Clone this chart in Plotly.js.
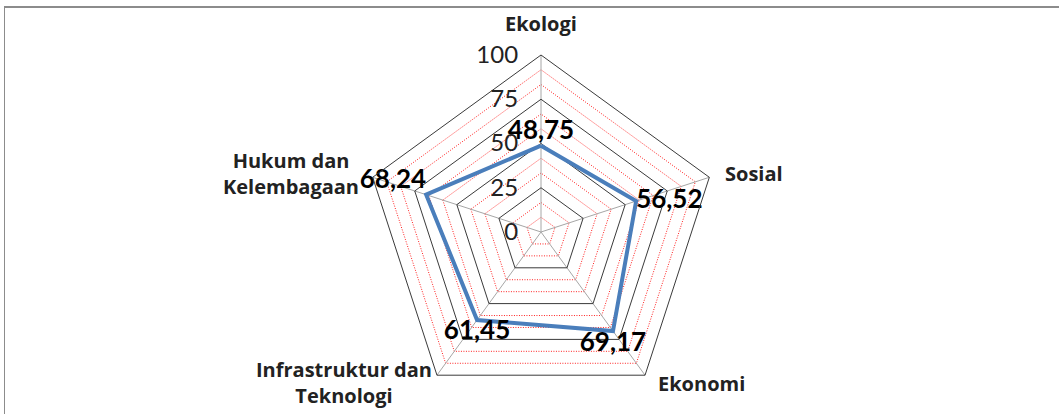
<!DOCTYPE html>
<html>
<head>
<meta charset="utf-8">
<script src="https://cdn.plot.ly/plotly-3.0.1.min.js"></script>
<style>
  html, body { margin: 0; padding: 0; background: #fff; }
  #wrap { position: relative; width: 1059px; height: 414px; overflow: hidden; }
  #chart { position: absolute; left: 0; top: 0; width: 1059px; height: 414px; }
  /* Excel chart-area frame, only top and left edges are visible in the crop */
  #frame { position: absolute; left: 4px; top: 6px; width: 1100px; height: 420px;
           border-top: 2px solid #8c8c8c; border-left: 1px solid #8c8c8c; pointer-events: none; }
</style>
</head>
<body>
<div id="wrap">
  <div id="chart"></div>
  <div id="frame"></div>
</div>
<script>
/* ── data ── */
const categories = ['Ekologi', 'Sosial', 'Ekonomi', 'Infrastruktur dan<br>Teknologi', 'Hukum dan<br>Kelembagaan'];
const values = [48.75, 56.52, 69.17, 61.45, 68.24];
const majorTicks = [0, 25, 50, 75, 100];
const majorLabels = ['0', '25', '50', '75', '100'];
const minorTicks = [8.33, 16.67, 33.33, 41.67, 58.33, 66.67, 83.33, 91.67];
const labelPos = ['top center', 'middle right', 'bottom center', 'bottom center', 'top left'];

const FONT = 'Lato, "Open Sans", "DejaVu Sans", sans-serif';
const CAT_FONT = '"Open Sans", Lato, "DejaVu Sans", sans-serif';

const W = 1059, H = 414;
const M = { l: 23, r: 0, t: 55, b: 5 };

// close the polygon
const theta = categories.concat(categories[0]);
const r = values.concat(values[0]);
const txt = values.map(v => v.toFixed(2).replace('.', ',')).concat('');
const pos = labelPos.concat('top center');

const minorTrace = {
  type: 'scatterpolar', subplot: 'polar',
  r: r, theta: theta, mode: 'lines',
  line: { width: 0, color: 'rgba(0,0,0,0)' },
  hoverinfo: 'skip', showlegend: false
};

const dataTrace = {
  type: 'scatterpolar', subplot: 'polar2',
  r: r, theta: theta, mode: 'lines+text',
  text: txt, textposition: pos,
  textfont: { family: FONT, size: 26, color: '#000', weight: 'bold' },
  line: { color: '#4a7ebb', width: 4 },
  hoverinfo: 'r+theta', showlegend: false
};

// category names sit beside each spoke end, like Excel places them
const pw = W - M.l - M.r, ph = H - M.t - M.b;
const R = Math.min(pw, ph) / 2;
const catStyle = [
  { xanchor: 'center', yanchor: 'bottom', xshift: 0,   yshift: 16 },
  { xanchor: 'left',   yanchor: 'middle', xshift: 14,  yshift: 4 },
  { xanchor: 'left',   yanchor: 'middle', xshift: 11,  yshift: -8 },
  { xanchor: 'right',  yanchor: 'middle', xshift: -3,  yshift: -7 },
  { xanchor: 'right',  yanchor: 'middle', xshift: -12, yshift: 4 }
];
const catNotes = categories.map((c, i) => {
  const a = (90 - 360 / categories.length * i) * Math.PI / 180;
  return {
    xref: 'paper', yref: 'paper',
    x: 0.5 + R * Math.cos(a) / pw, y: 0.5 + R * Math.sin(a) / ph,
    text: c, showarrow: false, align: 'center',
    font: { family: CAT_FONT, size: 20, color: '#222', weight: 'bold' },
    ...catStyle[i]
  };
});

const angularBase = { direction: 'clockwise', rotation: 90 };
const dom = { x: [0, 1], y: [0, 1] };

const layout = {
  width: W, height: H,
  margin: M,
  paper_bgcolor: '#fff',
  showlegend: false,
  annotations: catNotes,
  polar: {
    domain: dom,
    gridshape: 'linear', bgcolor: '#fff',
    radialaxis: {
      range: [0, 100], tickvals: minorTicks, showticklabels: false, ticks: '',
      showline: false, gridcolor: '#ff2020', gridwidth: 1, griddash: '1px,1.5px'
    },
    angularaxis: { ...angularBase, showgrid: false, showline: false, showticklabels: false, ticks: '' }
  },
  polar2: {
    domain: dom,
    gridshape: 'linear', bgcolor: 'rgba(0,0,0,0)',
    radialaxis: {
      range: [0, 100], tickvals: majorTicks, ticktext: majorLabels,
      angle: 90, tickangle: 90, side: 'counterclockwise',
      ticks: 'outside', ticklen: 14, tickcolor: 'rgba(0,0,0,0)',
      showline: false, gridcolor: '#3a3a3a', gridwidth: 1,
      tickfont: { family: FONT, size: 24, color: '#222' }
    },
    angularaxis: {
      ...angularBase,
      gridcolor: '#a6a6a6', gridwidth: 1,
      showline: true, linecolor: '#3a3a3a', linewidth: 1,
      ticks: '', showticklabels: false
    }
  }
};

Plotly.newPlot('chart', [minorTrace, dataTrace], layout, { staticPlot: true, displayModeBar: false });
</script>
</body>
</html>
